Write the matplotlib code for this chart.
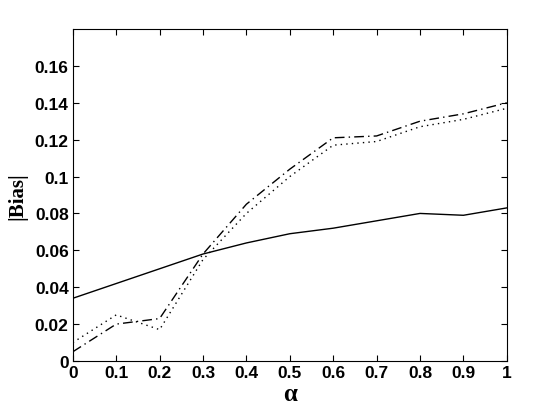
import numpy as np
import matplotlib
matplotlib.use('Agg')
import matplotlib.pyplot as plt

alpha = [0, 0.1, 0.2, 0.3, 0.4, 0.5, 0.6, 0.7, 0.8, 0.9, 1.0]
bias_solid = [0.034, 0.042, 0.050, 0.058, 0.064, 0.069, 0.072, 0.076, 0.080, 0.079, 0.083]
bias_dashdot = [0.005, 0.020, 0.023, 0.058, 0.085, 0.104, 0.121, 0.122, 0.130, 0.134, 0.140]
bias_dotted = [0.010, 0.025, 0.017, 0.055, 0.080, 0.100, 0.117, 0.119, 0.127, 0.131, 0.137]

xticks = [0, 0.1, 0.2, 0.3, 0.4, 0.5, 0.6, 0.7, 0.8, 0.9, 1]
xticklabels = ['0', '0.1', '0.2', '0.3', '0.4', '0.5', '0.6', '0.7', '0.8', '0.9', '1']
yticks = [0, 0.02, 0.04, 0.06, 0.08, 0.1, 0.12, 0.14, 0.16]
yticklabels = ['0', '0.02', '0.04', '0.06', '0.08', '0.1', '0.12', '0.14', '0.16']

fig = plt.figure(figsize=(5.6, 4.14), dpi=100)
ax = fig.add_axes([0.130, 0.1256, 0.775, 0.802])

ax.plot(alpha, bias_solid, color='k', lw=1.0, ls='-')
ax.plot(alpha, bias_dashdot, color='k', lw=1.0, ls=(0, (7, 3, 1, 3)))
ax.plot(alpha, bias_dotted, color='k', lw=1.0, ls=(0, (1, 3)))

ax.set_xlim(0, 1)
ax.set_ylim(0, 0.18)
ax.set_xticks(xticks)
ax.set_xticklabels(xticklabels)
ax.set_yticks(yticks)
ax.set_yticklabels(yticklabels)
for lab in ax.get_xticklabels() + ax.get_yticklabels():
    lab.set_family('Liberation Sans')
    lab.set_fontweight('bold')
    lab.set_fontsize(12.5)
ax.tick_params(direction='in', length=4, width=0.8, top=True, right=True, pad=3)
for s in ax.spines.values():
    s.set_linewidth(0.8)

ax.set_xlabel('α', family='Liberation Serif', fontsize=18, fontweight='bold', labelpad=1)
ax.set_ylabel('|Bias|', family='Liberation Serif', fontsize=15, fontweight='bold', labelpad=5)

fig.savefig('out.png', dpi=100)
